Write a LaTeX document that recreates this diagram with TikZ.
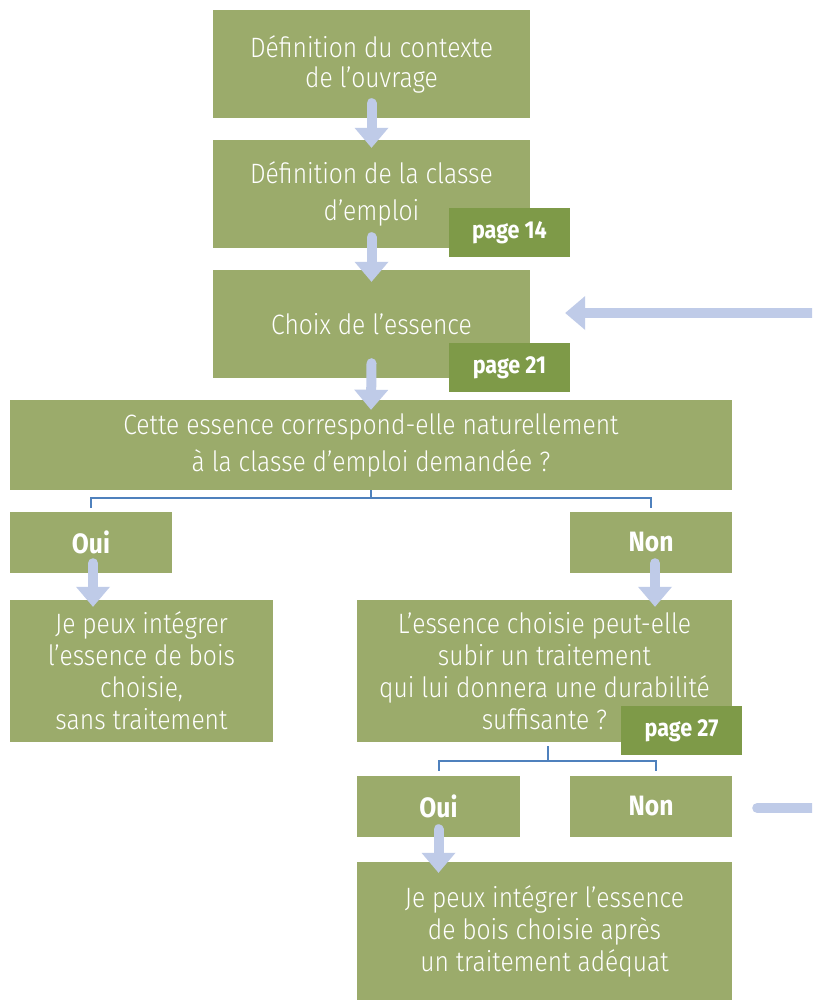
\documentclass[tikz,border=0pt]{standalone}
\usepackage{fontspec}
\setmainfont{Fira Sans}[UprightFont={* Light},BoldFont={* Bold},FakeStretch=0.88]
\usetikzlibrary{arrows.meta}
\definecolor{boxgreen}{RGB}{155,171,107}
\definecolor{taggreen}{RGB}{126,154,72}
\definecolor{arrowblue}{RGB}{191,203,232}
\definecolor{brackblue}{RGB}{79,129,189}
\begin{document}
\begin{tikzpicture}[x=1pt,y=-1pt,
  box/.style={fill=boxgreen, text=white, inner sep=0pt, align=center,
    font=\fontsize{28}{32}\selectfont},
  tag/.style={fill=taggreen, text=white, inner sep=0pt, minimum width=121pt,
    minimum height=49pt, font=\bfseries\fontsize{24.5}{26}\selectfont},
  ans/.style={box, minimum height=61pt, font=\bfseries\fontsize{28}{30}\selectfont},
  flow/.style={draw=arrowblue, line width=10pt, line cap=round, line join=round,
    -{Triangle[width=34pt,length=20pt,line width=0pt]}},
  brack/.style={draw=brackblue, line width=2pt}]
\useasboundingbox (0,0) rectangle (812,1000);
\clip (0,0) rectangle (812,1000);
\fill[white] (0,0) rectangle (812,1000);

\node[box, minimum width=317pt, minimum height=108pt, font=\fontsize{28}{30}\selectfont] (b1) at (371.5,64)
  {Définition du contexte\\de l’ouvrage};
\node[box, minimum width=317pt, minimum height=108pt, font=\fontsize{28}{37}\selectfont] (b2) at (371.5,194)
  {Définition de la classe\\d’emploi};
\node[box, minimum width=317pt, minimum height=108pt] (b3) at (371.5,324)
  {Choix de l’essence};
\node[tag] (p14) at (509.5,232.5) {page 14};
\node[tag] (p21) at (509.5,367.5) {page 21};
\node[box, minimum width=722pt, minimum height=90pt, font=\fontsize{28}{37}\selectfont] (b4) at (371,445)
  {Cette essence correspond-elle naturellement\\à la classe d’emploi demandée ?};
\node[ans, minimum width=162pt] (oui1) at (91,542.5) {Oui};
\node[ans, minimum width=162pt] (non1) at (651,542.5) {Non};
\node[box, minimum width=263pt, minimum height=142pt] (yes1) at (141.5,671)
  {Je peux intégrer\\l’essence de bois\\choisie,\\sans traitement};
\node[box, minimum width=375pt, minimum height=142pt] (q2) at (544.5,671)
  {L’essence choisie peut-elle\\subir un traitement\\qui lui donnera une durabilité\\suffisante ?};
\node[tag] (p27) at (681.5,730.5) {page 27};
\node[ans, minimum width=163pt] (oui2) at (438.5,806.5) {Oui};
\node[ans, minimum width=162pt] (non2) at (651,806.5) {Non};
\node[box, minimum width=375pt, minimum height=138pt] (fin) at (544.5,931)
  {Je peux intégrer l’essence\\de bois choisie après\\un traitement adéquat};

% arrows
\draw[flow] ([yshift=15pt]b1.south) -- ([yshift=-8pt]b2.north);
\draw[flow] ([yshift=11pt]b2.south) -- ([yshift=-12pt]b3.north);
\draw[flow] ([yshift=15pt]b3.south) -- ([yshift=-10pt]b4.north);
\draw[flow] ([xshift=2pt,yshift=10pt]oui1.south) -- ([xshift=2pt,yshift=-7pt]yes1.north -| oui1.south);
\draw[flow] ([xshift=4pt,yshift=10pt]non1.south) -- ([xshift=4pt,yshift=-7pt]q2.north -| non1.south);
\draw[flow] ([yshift=8pt]oui2.south) -- ([yshift=-11pt]fin.north -| oui2.south);
\draw[flow] ([xshift=25pt,yshift=-1.5pt]non2.east) -- ++(80,0)
  |- ([xshift=35pt,yshift=11pt]b3.east);

% brackets
\draw[brack] ([yshift=4pt]oui1.north) |- ([yshift=-8pt]b4.south) -| ([yshift=4pt]non1.north);
\draw[brack] (b4.south) -- ([yshift=-8pt]b4.south);
\draw[brack] ([yshift=5pt]oui2.north) |- ([xshift=3pt,yshift=-19pt]q2.south) -| ([xshift=5pt,yshift=5pt]non2.north);
\draw[brack] ([xshift=3pt,yshift=-4pt]q2.south) -- ([xshift=3pt,yshift=-19pt]q2.south);
\end{tikzpicture}
\end{document}
